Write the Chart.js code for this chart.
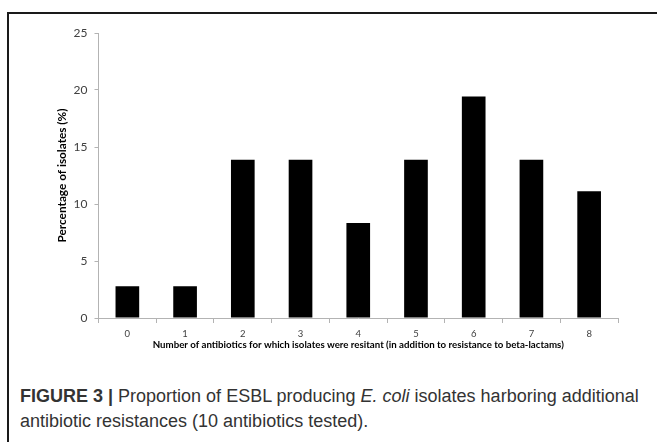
<!DOCTYPE html>
<html>
<head>
<meta charset="utf-8">
<script src="https://cdn.jsdelivr.net/npm/chart.js@4.4.0/dist/chart.umd.min.js"></script>
<style>
  body { margin: 0; background: #fff; width: 657px; height: 442px; overflow: hidden; position: relative; }
  #frame { position: absolute; left: 7px; top: 12px; width: 660px; height: 440px; border-top: 2px solid #1a1a1a; border-left: 2px solid #1a1a1a; }
  #chart { position: absolute; left: 0; top: 0; }
  #caption { position: absolute; left: 20px; top: 384px; width: 640px; font-family: "Liberation Sans", Arial, sans-serif; font-size: 18px; line-height: 25px; color: #333; white-space: nowrap; }
</style>
</head>
<body>
<div id="frame"></div>
<canvas id="chart" width="657" height="360"></canvas>
<div id="caption"><b>FIGURE 3 |</b> Proportion of ESBL producing <i>E. coli</i> isolates harboring additional<br>antibiotic resistances (10 antibiotics tested).</div>
<script>
const categories = ['0', '1', '2', '3', '4', '5', '6', '7', '8'];
const percentages = [2.78, 2.78, 13.89, 13.89, 8.33, 13.89, 19.44, 13.89, 11.11];
const yTicks = [0, 5, 10, 15, 20, 25];

const chart = new Chart(document.getElementById('chart'), {
  type: 'bar',
  data: {
    labels: categories,
    datasets: [{
      label: 'Percentage of isolates',
      data: percentages,
      backgroundColor: '#000000',
      borderWidth: 0,
      barPercentage: 0.41,
      categoryPercentage: 1
    }]
  },
  options: {
    responsive: false,
    animation: false,
    layout: { padding: { top: 33, right: 39, bottom: 0, left: 0 } },
    plugins: { legend: { display: false }, tooltip: { enabled: false } },
    scales: {
      x: {
        grid: { drawOnChartArea: false, drawTicks: true, tickLength: 5, color: '#b3b3b3', offset: true },
        border: { color: '#b3b3b3', width: 1 },
        ticks: { color: '#404040', padding: 5, font: { family: 'Lato', size: 9.5 } },
        title: {
          display: true,
          text: 'Number of antibiotics for which isolates were resitant (in addition to resistance to beta-lactams)',
          color: '#000',
          font: { family: 'Lato', size: 9.7, weight: 'bold' },
          padding: { top: 0, bottom: 9 }
        },
        afterFit: (scale) => { scale.height = 42; }
      },
      y: {
        min: 0,
        max: 25,
        afterBuildTicks: (scale) => { scale.ticks = yTicks.map(v => ({ value: v })); },
        grid: { drawOnChartArea: false, drawTicks: true, tickLength: 4, color: '#b3b3b3' },
        border: { color: '#b3b3b3', width: 1 },
        ticks: { color: '#404040', padding: 7, font: { family: 'Lato', size: 12 } },
        title: {
          display: true,
          text: 'Percentage of isolates (%)',
          color: '#000',
          font: { family: 'Lato', size: 11.8, weight: 'bold' },
          padding: { top: 55, bottom: 0 }
        },
        afterFit: (scale) => { scale.width = 98.5; }
      }
    }
  }
});
</script>
</body>
</html>
